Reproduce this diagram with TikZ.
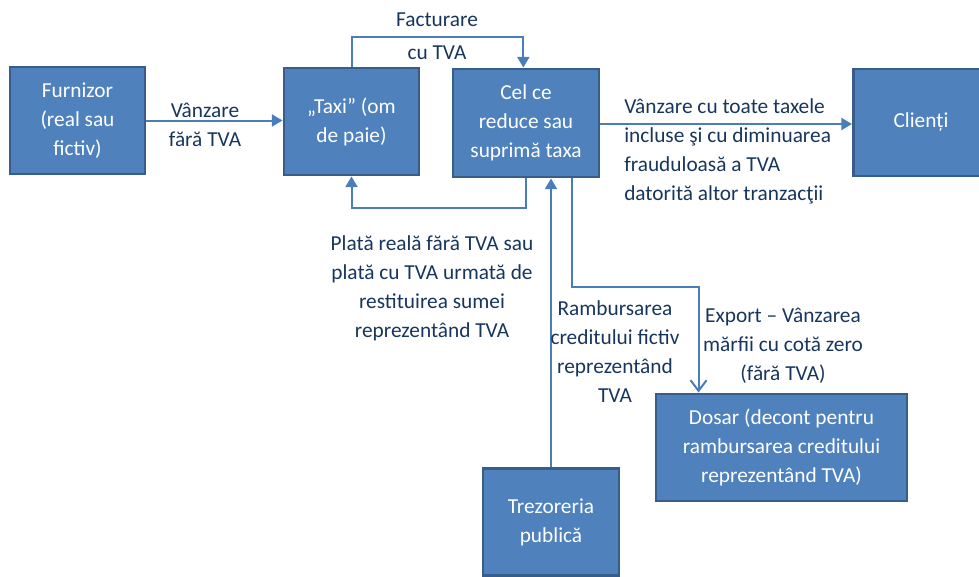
\documentclass[tikz,border=0pt]{standalone}
\usepackage{fontspec}
\setmainfont{Carlito}
\usetikzlibrary{arrows.meta}

\begin{document}
\begin{tikzpicture}[x=0.75pt, y=-0.75pt,
    box/.style={draw=boxline, fill=boxfill, line width=2.2pt, text=white,
      align=center, inner sep=0pt, font=\fontsize{16}{21.75}\selectfont},
    conn/.style={draw=linecol, line width=1.5pt},
    arr/.style={conn, -{Triangle[length=8pt, width=9pt]}},
    openarr/.style={conn, -{Straight Barb[length=8pt, width=12pt]}},
    lbl/.style={text=labelcol, align=center, inner sep=0pt,
      font=\fontsize{16}{21.75}\selectfont}]
  \definecolor{boxfill}{RGB}{79,129,189}
  \definecolor{boxline}{RGB}{56,93,138}
  \definecolor{linecol}{RGB}{74,126,187}
  \definecolor{labelcol}{RGB}{23,54,93}
  \useasboundingbox (0,0) rectangle (979,576);

  % boxes
  \node [box, minimum width=135pt*0.75, minimum height=107pt*0.75] (furnizor) at (77.5, 120.5) {Furnizor\\(real sau\\fictiv)};
  \node [box, minimum width=135pt*0.75, minimum height=107pt*0.75] (taxi) at (351.5, 121.5) {„Taxi” (om\\de paie)};
  \node [box, minimum width=146pt*0.75, minimum height=108pt*0.75] (cel) at (526, 123) {Cel ce\\reduce sau\\suprimă taxa};
  \node [box, minimum width=135pt*0.75, minimum height=107pt*0.75] (clienti) at (921, 122.5) {Clienți};
  \node [box, minimum width=136pt*0.75, minimum height=107pt*0.75] (trezor) at (551, 522) {Trezoreria\\publică};
  \node [box, minimum width=251pt*0.75, minimum height=107pt*0.75] (dosar) at (781.5, 447.5) {Dosar (decont pentru\\rambursarea creditului\\reprezentând TVA)};

  % connectors
  \draw [arr] (furnizor.east) -- (furnizor.east -| taxi.west);
  \draw [arr] (taxi.north) -- ++(0,-30) -| ([xshift=-2pt]cel.north);
  \draw [arr] (cel.south) -- ++(0,30) -| (taxi.south);
  \draw [arr] (trezor.north) -- (trezor.north |- cel.south);
  \coordinate (expdown) at ([xshift=46*0.75pt]cel.south);
  \coordinate (expin) at ([xshift=44*0.75pt]dosar.north west);
  \draw [openarr] (expdown) -- ++(0,109) -| (expin);
  \draw [arr] ([yshift=-0.75pt]cel.east) -- ([yshift=-0.75pt]cel.east -| clienti.west);

  % labels
  \node [lbl] (vfara) at (205, 124.5) {Vânzare\\fără TVA};
  \node [lbl] (factura) at (437, 36) {Facturare\\[3pt]cu TVA};
  \node [lbl, align=left, anchor=west] (vtoate) at (624, 151.5) {Vânzare cu toate taxele\\incluse şi cu diminuarea\\frauduloasă a TVA\\datorită altor tranzacţii};
  \node [lbl] (plata) at (432, 288.5) {Plată reală fără TVA sau\\plată cu TVA urmată de\\restituirea sumei\\reprezentând TVA};
  \node [lbl] (ramb) at (615, 352) {Rambursarea\\creditului fictiv\\reprezentând\\TVA};
  \node [lbl] (export) at (783, 345.5) {Export – Vânzarea\\mărfii cu cotă zero\\(fără TVA)};
\end{tikzpicture}
\end{document}
